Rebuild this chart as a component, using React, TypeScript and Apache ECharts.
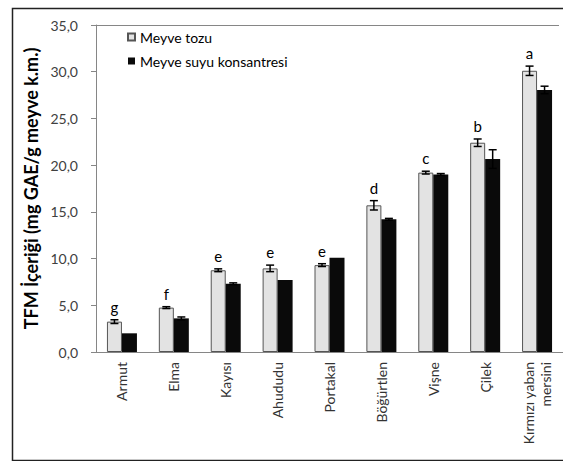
import React, { useEffect, useRef } from "react";
import * as echarts from "echarts";

const categories = ["Armut", "Elma", "Kayısı", "Ahududu", "Portakal", "Böğürtlen", "Vişne", "Çilek", "Kırmızı yaban\nmersini"];
const powderValues = [3.25, 4.75, 8.75, 8.95, 9.3, 15.7, 19.2, 22.4, 30.1];
const powderErrors = [0.2, 0.1, 0.15, 0.35, 0.15, 0.5, 0.15, 0.4, 0.5];
const concentrateValues = [2.0, 3.6, 7.3, 7.7, 10.1, 14.2, 19.0, 20.65, 28.05];
const concentrateErrors = [0.0, 0.15, 0.1, 0.0, 0.0, 0.1, 0.1, 1.0, 0.4];
const groupLetters = ["g", "f", "e", "e", "e", "d", "c", "b", "a"];
const yTicks = { min: 0, max: 35, interval: 5 };

const FONT = "Lato, 'Open Sans', sans-serif";

function makeErrorSeries(name: string, values: number[], errors: number[], offset: number, withLetters: boolean) {
  return {
    type: "custom",
    name: name + "-err",
    z: 10,
    silent: true,
    data: values.map((v, i) => [i, v, errors[i]]),
    renderItem: (params: any, api: any) => {
      const cat = api.value(0);
      const v = api.value(1);
      const e = api.value(2);
      const letter = withLetters ? groupLetters[params.dataIndex] : "";
      const top = api.coord([cat, v + e]);
      const bot = api.coord([cat, v - e]);
      const x = top[0] + offset;
      const cap = 4;
      const children: any[] = [];
      if (e > 0) {
        const st = { stroke: "#000", lineWidth: 1.5 };
        children.push({ type: "line", shape: { x1: x, y1: top[1], x2: x, y2: bot[1] }, style: st });
        children.push({ type: "line", shape: { x1: x - cap, y1: top[1], x2: x + cap, y2: top[1] }, style: st });
        children.push({ type: "line", shape: { x1: x - cap, y1: bot[1], x2: x + cap, y2: bot[1] }, style: st });
      }
      if (letter) {
        children.push({
          type: "text",
          x: x,
          y: top[1] - 13,
          style: {
            text: letter,
            fill: "#000",
            font: "15px " + FONT,
            textAlign: "center",
            textVerticalAlign: "middle",
          },
        });
      }
      return { type: "group", children };
    },
  };
}

export default function App() {
  const ref = useRef<HTMLDivElement>(null);
  useEffect(() => {
    if (!ref.current) return;
    const chart = echarts.init(ref.current, null, { renderer: "svg" });
    chart.setOption({
      animation: false,
      backgroundColor: "#fff",
      textStyle: { fontFamily: FONT },
      grid: { left: 96, top: 25, width: 473, height: 327, containLabel: false },
      legend: {
        orient: "vertical",
        left: 122,
        top: 25,
        padding: 5,
        itemWidth: 7,
        itemHeight: 7,
        itemGap: 10,
        icon: "rect",
        data: ["Meyve tozu", "Meyve suyu konsantresi"],
        textStyle: { fontSize: 14, color: "#000", fontFamily: FONT },
      },
      xAxis: {
        type: "category",
        data: categories,
        axisLine: { lineStyle: { color: "#868686", width: 1 } },
        axisTick: { show: false },
        axisLabel: {
          rotate: 90,
          interval: 0,
          margin: 10,
          fontSize: 14,
          color: "#333",
          fontFamily: FONT,
          lineHeight: 17,
          align: "right",
        },
      },
      yAxis: {
        type: "value",
        min: yTicks.min,
        max: yTicks.max,
        interval: yTicks.interval,
        name: "TFM İçeriği (mg GAE/g meyve k.m.)",
        nameLocation: "middle",
        nameGap: 55,
        nameTextStyle: { fontSize: 18, fontWeight: "bold", color: "#000", fontFamily: FONT },
        axisLine: { show: true, lineStyle: { color: "#868686", width: 1 } },
        axisTick: { show: true, inside: false, length: 5, lineStyle: { color: "#868686" } },
        splitLine: { show: false },
        axisLabel: {
          margin: 18,
          fontSize: 14,
          color: "#404040",
          fontFamily: FONT,
          formatter: (v: number) => v.toFixed(1).replace(".", ","),
        },
      },
      graphic: [
        {
          type: "rect",
          left: 10,
          top: 6,
          shape: { x: 0, y: 0, width: 570, height: 452 },
          style: { fill: "none", stroke: "#222", lineWidth: 1.5 },
          z: 0,
        },
        {
          type: "line",
          shape: { x1: 96, y1: 25.5, x2: 559, y2: 25.5 },
          style: { stroke: "#868686", lineWidth: 1 },
        },
      ],
      series: [
        {
          type: "bar",
          name: "Meyve tozu",
          data: powderValues,
          barWidth: 15,
          barGap: "0%",
          itemStyle: { color: "#e3e3e3", borderColor: "#555", borderWidth: 1 },
        },
        {
          type: "bar",
          name: "Meyve suyu konsantresi",
          data: concentrateValues,
          barWidth: 15,
          barGap: "0%",
          itemStyle: { color: "#0a0a0a", borderColor: "#0a0a0a", borderWidth: 0 },
        },
        makeErrorSeries("Meyve tozu", powderValues, powderErrors, -7.5, true),
        makeErrorSeries("Meyve suyu konsantresi", concentrateValues, concentrateErrors, 7.5, false),
      ],
    });
    return () => chart.dispose();
  }, []);
  return (
    <div
      ref={ref}
      style={{ position: "fixed", left: 0, top: 0, width: 563, height: 461, overflow: "hidden" }}
    />
  );
}
